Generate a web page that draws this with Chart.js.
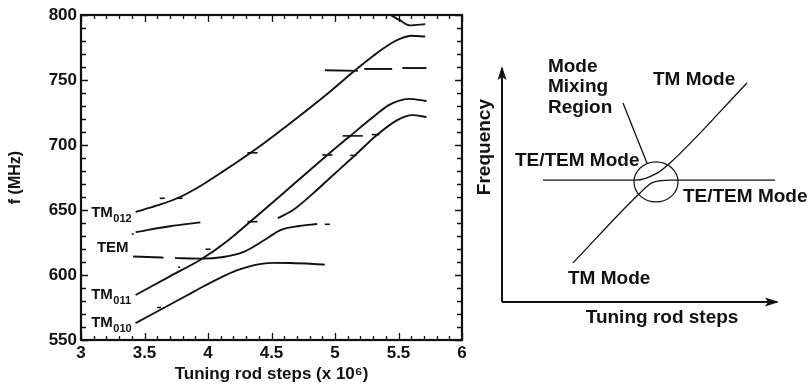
<!DOCTYPE html>
<html>
<head>
  <meta charset="utf-8">
  <title>Mode map vs tuning rod steps</title>
  <script src="https://cdn.jsdelivr.net/npm/chart.js"></script>
  <style>
    html, body { margin: 0; padding: 0; background: #fff; }
    #wrap { position: relative; width: 809px; height: 392px; }
    #modeChart { position: absolute; left: 0; top: 0; }
    #sketchChart { position: absolute; left: 470px; top: 0; }
  </style>
</head>
<body>
  <div id="wrap">
    <canvas id="modeChart" width="470" height="392"></canvas>
    <canvas id="sketchChart" width="339" height="392"></canvas>
  </div>

  <script>
    // ---- left panel: measured modes, f (MHz) vs tuning rod steps (x 10^6)
    var stepTicks = [3, 3.5, 4, 4.5, 5, 5.5, 6];
    var stepTickLabels = ['3', '3.5', '4', '4.5', '5', '5.5', '6'];
    var freqTicks = [550, 600, 650, 700, 750, 800];

    var tm012Steps = [3.43, 3.60, 3.78, 3.94, 4.10, 4.35, 4.65, 4.96, 5.14, 5.30, 5.43, 5.52, 5.60, 5.71];
    var tm012Freq  = [648.5, 653.5, 660, 668.5, 678.5, 695, 717, 741, 756, 768.5, 777.5, 782, 784, 783.5];

    var tm011Steps = [3.43, 3.70, 3.95, 4.15, 4.33, 4.60, 4.94, 5.12, 5.30, 5.42, 5.50, 5.58, 5.72];
    var tm011Freq  = [584.6, 599, 612.3, 626, 640.8, 663.5, 692.3, 707, 721.5, 730.5, 734, 735.5, 733.8];

    var mixSteps = [4.55, 4.67, 4.83, 4.96, 5.16, 5.33, 5.49, 5.61, 5.72];
    var mixFreq  = [643.8, 650, 663, 674.6, 692.3, 707.7, 719.2, 723, 721.5];

    var tm010Steps = [3.43, 3.84, 3.94, 4.10, 4.22, 4.32, 4.42, 4.52, 4.65, 4.92];
    var tm010Freq  = [563, 584.6, 590, 598, 603.3, 606.5, 608.6, 609.3, 609.2, 608];

    var temUpSteps = [3.43, 3.70, 3.94];
    var temUpFreq  = [633, 637.5, 640.5];

    var temLoASteps = [3.41, 3.65];
    var temLoAFreq  = [614.2, 613.4];
    var temLoBSteps = [3.74, 3.95, 4.12, 4.28, 4.47, 4.57, 4.72, 4.86];
    var temLoBFreq  = [613, 612.6, 613.8, 617.7, 628.5, 634.6, 637.7, 639.2];

    var topSteps = [5.43, 5.51, 5.59, 5.71];
    var topFreq  = [800.5, 796, 792, 793];

    var dash757Steps = [[4.92, 5.18], [5.23, 5.45], [5.53, 5.72]];
    var dash757Freq  = [[757.5, 757], [758.5, 758.5], [759.2, 759.2]];

    // short marks sitting on / near the curves
    var markSteps = [[3.62, 3.66], [3.76, 3.80], [4.31, 4.39], [3.40, 3.415], [3.98, 4.02], [3.765, 3.78],
                     [3.60, 3.63], [4.31, 4.39], [4.92, 4.96], [4.90, 4.98], [5.06, 5.22], [5.12, 5.17], [5.29, 5.35]];
    var markFreq  = [659, 659, 694, 631.5, 619.8, 606, 575, 641, 639, 692.3, 707, 692, 708];

    var modeNames = ['TM', 'TEM', 'TM', 'TM'];
    var modeSubs  = ['012', '', '011', '010'];
    var modeAtStep = [3.08, 3.125, 3.08, 3.08];
    var modeAtFreq = [647.7, 620.8, 584.6, 563];

    var ink = '#111';
    var boldFont = 'Liberation Sans, Arial, Helvetica, sans-serif';

    function pts(xs, ys) {
      return xs.map(function(x, i) { return { x: x, y: ys[i] }; });
    }
    function curve(xs, ys, w) {
      return {
        data: pts(xs, ys), showLine: true, borderColor: ink, borderWidth: w || 1.9,
        pointRadius: 0, cubicInterpolationMode: 'monotone', fill: false
      };
    }

    var leftSets = [
      curve(tm012Steps, tm012Freq), curve(tm011Steps, tm011Freq), curve(mixSteps, mixFreq),
      curve(tm010Steps, tm010Freq), curve(temUpSteps, temUpFreq), curve(temLoASteps, temLoAFreq),
      curve(temLoBSteps, temLoBFreq), curve(topSteps, topFreq)
    ];
    dash757Steps.forEach(function(s, i) { leftSets.push(curve(s, dash757Freq[i])); });
    markSteps.forEach(function(s, i) { leftSets.push(curve(s, [markFreq[i], markFreq[i]], 1.6)); });

    var frameTicks = {
      id: 'frameTicks',
      afterDraw: function(chart) {
        var ctx = chart.ctx, a = chart.chartArea, xs = chart.scales.x, ys = chart.scales.y;
        ctx.save();
        ctx.strokeStyle = ink;
        ctx.lineWidth = 1.3;
        ctx.beginPath();
        for (var i = 0; i <= 30; i++) {
          var px = Math.round(xs.getPixelForValue(3 + i * 0.1)) + 0.5;
          var len = i % 5 === 0 ? 7 : 4;
          ctx.moveTo(px, a.bottom); ctx.lineTo(px, a.bottom - len);
          ctx.moveTo(px, a.top); ctx.lineTo(px, a.top + len);
        }
        for (var j = 0; j <= 25; j++) {
          var py = Math.round(ys.getPixelForValue(550 + j * 10)) + 0.5;
          var l2 = j % 5 === 0 ? 7 : 5;
          ctx.moveTo(a.left, py); ctx.lineTo(a.left + l2, py);
          ctx.moveTo(a.right, py); ctx.lineTo(a.right - l2, py);
        }
        ctx.stroke();
        ctx.lineWidth = 2.2;
        ctx.strokeRect(a.left, a.top, a.right - a.left, a.bottom - a.top);

        // mode labels with subscripts
        ctx.fillStyle = ink;
        ctx.textBaseline = 'middle';
        ctx.textAlign = 'left';
        modeNames.forEach(function(name, k) {
          var x = xs.getPixelForValue(modeAtStep[k]);
          var y = ys.getPixelForValue(modeAtFreq[k]);
          ctx.font = 'bold 15px ' + boldFont;
          ctx.fillText(name, x, y);
          var w = ctx.measureText(name).width;
          if (modeSubs[k]) {
            ctx.font = 'bold 11px ' + boldFont;
            ctx.fillText(modeSubs[k], x + w + 0.5, y + 6);
          }
        });
        ctx.restore();
      }
    };

    new Chart(document.getElementById('modeChart'), {
      type: 'scatter',
      data: { datasets: leftSets },
      options: {
        responsive: false,
        animation: false,
        layout: { padding: { top: 15, right: 8, left: 0, bottom: 0 } },
        plugins: { legend: { display: false }, tooltip: { enabled: false } },
        scales: {
          x: {
            type: 'linear', min: 3, max: 6,
            afterBuildTicks: function(s) { s.ticks = stepTicks.map(function(v) { return { value: v }; }); },
            ticks: {
              autoSkip: false, maxRotation: 0, padding: 3, color: ink,
              font: { family: boldFont, size: 17, weight: 'bold' },
              callback: function(v) { return stepTickLabels[stepTicks.indexOf(v)]; }
            },
            grid: { display: false, drawTicks: false },
            border: { display: false },
            title: {
              display: true, text: 'Tuning rod steps (x 10⁶)', color: ink,
              font: { family: boldFont, size: 17, weight: 'bold' },
              padding: { top: 0, bottom: 7 }
            },
            afterFit: function(s) { s.height = 52; }
          },
          y: {
            type: 'linear', min: 550, max: 800,
            afterBuildTicks: function(s) { s.ticks = freqTicks.map(function(v) { return { value: v }; }); },
            ticks: {
              autoSkip: false, padding: 4, color: ink,
              font: { family: boldFont, size: 17, weight: 'bold' },
              callback: function(v) { return String(v); }
            },
            grid: { display: false, drawTicks: false },
            border: { display: false },
            title: {
              display: true, text: 'f (MHz)', color: ink,
              font: { family: boldFont, size: 16, weight: 'bold' },
              padding: { top: 6, bottom: 0 }
            },
            afterFit: function(s) { s.width = 81; }
          }
        }
      },
      plugins: [frameTicks]
    });

    // ---- right panel: schematic of the mode crossing (arbitrary units)
    var axisXRun = [0, 10];
    var axisYRun = [0, 10];

    var teToTmX = [1.49, 4.87, 5.64, 6.11, 8.91];
    var teToTmY = [5.21, 5.21, 5.51, 5.94, 9.36];

    var tmToTeX = [2.58, 5.02, 5.45, 6.11, 9.93];
    var tmToTeY = [1.67, 4.66, 5.09, 5.21, 5.21];

    var leaderX = [4.40, 5.27];
    var leaderY = [8.50, 5.94];

    var mixCircle = { x: 5.6, y: 5.13, rx: 0.8, ry: 0.855 };

    var sketchTexts = ['Mode', 'Mixing', 'Region', 'TM Mode', 'TE/TEM Mode', 'TE/TEM Mode', 'TM Mode'];
    var sketchTextX = [1.67, 1.67, 1.67, 5.49, 0.47, 6.58, 2.40];
    var sketchTextY = [10.04, 9.19, 8.29, 9.49, 6.03, 4.49, 0.98];

    var sketchSets = [
      curve(axisXRun, [0, 0], 2), curve([0, 0], axisYRun, 2),
      curve(teToTmX, teToTmY, 1.3), curve(tmToTeX, tmToTeY, 1.3), curve(leaderX, leaderY, 1.3)
    ];

    var sketchDecor = {
      id: 'sketchDecor',
      afterDraw: function(chart) {
        var ctx = chart.ctx, xs = chart.scales.x, ys = chart.scales.y;
        var ox = xs.getPixelForValue(0), oy = ys.getPixelForValue(0);
        var tx = xs.getPixelForValue(axisXRun[1]), ty = ys.getPixelForValue(axisYRun[1]);
        ctx.save();
        ctx.fillStyle = ink;
        ctx.strokeStyle = ink;
        // arrow heads
        ctx.beginPath();
        ctx.moveTo(tx + 2, oy); ctx.lineTo(tx - 12, oy - 4.5); ctx.lineTo(tx - 9, oy); ctx.lineTo(tx - 12, oy + 4.5);
        ctx.closePath(); ctx.fill();
        ctx.beginPath();
        ctx.moveTo(ox, ty - 2); ctx.lineTo(ox - 4.5, ty + 12); ctx.lineTo(ox, ty + 9); ctx.lineTo(ox + 4.5, ty + 12);
        ctx.closePath(); ctx.fill();
        // mode mixing circle
        var cx = xs.getPixelForValue(mixCircle.x), cy = ys.getPixelForValue(mixCircle.y);
        var rx = xs.getPixelForValue(mixCircle.x + mixCircle.rx) - cx;
        var ry = cy - ys.getPixelForValue(mixCircle.y + mixCircle.ry);
        ctx.lineWidth = 1.2;
        ctx.beginPath();
        ctx.ellipse(cx, cy, rx, ry, 0, 0, Math.PI * 2);
        ctx.stroke();
        // labels
        ctx.font = 'bold 19px ' + boldFont;
        ctx.textBaseline = 'middle';
        ctx.textAlign = 'left';
        sketchTexts.forEach(function(t, i) {
          ctx.fillText(t, xs.getPixelForValue(sketchTextX[i]), ys.getPixelForValue(sketchTextY[i]));
        });
        ctx.textAlign = 'center';
        ctx.fillText('Tuning rod steps', xs.getPixelForValue(5.82), ys.getPixelForValue(-0.68));
        ctx.translate(xs.getPixelForValue(-0.62), ys.getPixelForValue(6.62));
        ctx.rotate(-Math.PI / 2);
        ctx.fillText('Frequency', 0, 0);
        ctx.restore();
      }
    };

    new Chart(document.getElementById('sketchChart'), {
      type: 'scatter',
      data: { datasets: sketchSets },
      options: {
        responsive: false,
        animation: false,
        layout: { padding: 0 },
        plugins: { legend: { display: false }, tooltip: { enabled: false } },
        scales: {
          x: { type: 'linear', min: -1.164, max: 11.164, display: false },
          y: { type: 'linear', min: -3.846, max: 12.906, display: false }
        }
      },
      plugins: [sketchDecor]
    });
  </script>
</body>
</html>
